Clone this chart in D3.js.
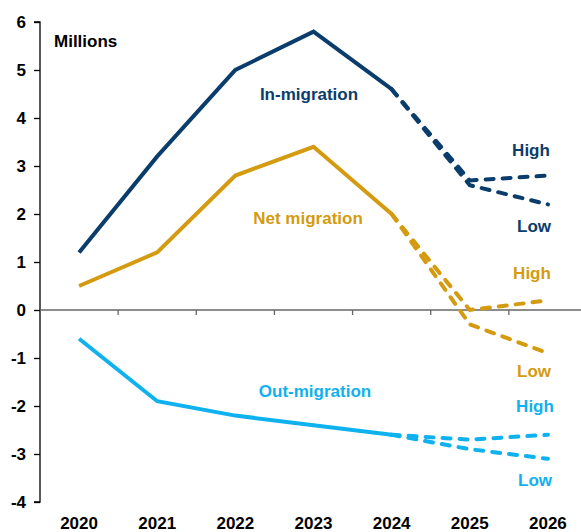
<!DOCTYPE html>
<html>
<head>
<meta charset="utf-8">
<script src="https://cdn.jsdelivr.net/npm/d3@7"></script>
<style>
  html, body { margin: 0; padding: 0; background: #fff; }
  svg { display: block; font-family: "Liberation Sans", Arial, sans-serif; }
</style>
</head>
<body>
<svg id="chart" width="581" height="532"></svg>
<script>
// Years on the category axis
const years = ["2020", "2021", "2022", "2023", "2024", "2025", "2026"];
const yTicks = [-4, -3, -2, -1, 0, 1, 2, 3, 4, 5, 6];

// Observed values, 2020–2024 (millions)
const inMigration  = [1.2, 3.2, 5.0, 5.8, 4.6];
const netMigration = [0.5, 1.2, 2.8, 3.4, 2.0];
const outMigration = [-0.6, -1.9, -2.2, -2.4, -2.6];

// Projection scenarios, 2024–2026 (millions)
const projYears = ["2024", "2025", "2026"];
const inHigh  = [4.6, 2.7, 2.8];
const inLow   = [4.6, 2.6, 2.2];
const netHigh = [2.0, 0.0, 0.2];
const netLow  = [2.0, -0.3, -0.9];
const outHigh = [-2.6, -2.7, -2.6];
const outLow  = [-2.6, -2.9, -3.1];

const colors = { inm: "#0a3d6b", net: "#d49b10", out: "#0fb1ee" };

const svg = d3.select("#chart");

const x = d3.scaleBand().domain(years).range([40, 587]);
const y = d3.scaleLinear().domain([-4, 6]).range([502, 22]);
const cx = d => x(d) + x.bandwidth() / 2;

// Y axis (plain hyphen for negatives)
const yAxis = svg.append("g")
  .attr("transform", "translate(40,0)")
  .call(d3.axisLeft(y).tickValues(yTicks).tickSize(6).tickPadding(8).tickFormat(d => String(d)));
yAxis.select(".domain").attr("stroke", "#000").attr("stroke-width", 1.3).attr("d", `M-6,${y(6)}H0V${y(-4)}H-6`);
yAxis.selectAll(".tick line").attr("stroke", "#000").attr("stroke-width", 1.3);
yAxis.selectAll(".tick text")
  .attr("fill", "#000").attr("font-size", 17).attr("font-weight", "bold")
  .attr("font-family", "Liberation Sans, Arial, sans-serif");

// Zero line with category separators
svg.append("line")
  .attr("x1", 40).attr("x2", 581)
  .attr("y1", y(0)).attr("y2", y(0))
  .attr("stroke", "#666").attr("stroke-width", 1.3);
svg.append("g").selectAll("line")
  .data(years.slice(1))
  .join("line")
  .attr("x1", d => x(d)).attr("x2", d => x(d))
  .attr("y1", y(0)).attr("y2", y(0) + 5)
  .attr("stroke", "#666").attr("stroke-width", 1.3);

// Year labels
svg.append("g").selectAll("text")
  .data(years)
  .join("text")
  .attr("x", d => cx(d)).attr("y", 529)
  .attr("text-anchor", "middle")
  .attr("font-size", 17).attr("font-weight", "bold").attr("fill", "#000")
  .text(d => d);

const line = d3.line().x(d => cx(d[0])).y(d => y(d[1]));

function solid(values, color) {
  svg.append("path")
    .datum(years.slice(0, values.length).map((yr, i) => [yr, values[i]]))
    .attr("d", line)
    .attr("fill", "none").attr("stroke", color)
    .attr("stroke-width", 4).attr("stroke-linejoin", "miter");
}
function dashed(values, color) {
  svg.append("path")
    .datum(projYears.map((yr, i) => [yr, values[i]]))
    .attr("d", line)
    .attr("fill", "none").attr("stroke", color)
    .attr("stroke-width", 4).attr("stroke-linecap", "round")
    .attr("stroke-dasharray", "8,9");
}

solid(inMigration, colors.inm);
dashed(inHigh, colors.inm);
dashed(inLow, colors.inm);
solid(netMigration, colors.net);
dashed(netHigh, colors.net);
dashed(netLow, colors.net);
solid(outMigration, colors.out);
dashed(outHigh, colors.out);
dashed(outLow, colors.out);

// Text labels
const labels = [
  { t: "Millions", x: 54, y: 47, c: "#000", a: "start" },
  { t: "In-migration", x: 309, y: 100, c: colors.inm, a: "middle" },
  { t: "Net migration", x: 308, y: 224, c: colors.net, a: "middle" },
  { t: "Out-migration", x: 315, y: 397, c: colors.out, a: "middle" },
  { t: "High", x: 531, y: 156, c: colors.inm, a: "middle" },
  { t: "Low", x: 534, y: 232, c: colors.inm, a: "middle" },
  { t: "High", x: 532, y: 279, c: colors.net, a: "middle" },
  { t: "Low", x: 534, y: 377, c: colors.net, a: "middle" },
  { t: "High", x: 535, y: 412, c: colors.out, a: "middle" },
  { t: "Low", x: 535, y: 486, c: colors.out, a: "middle" }
];
svg.append("g").selectAll("text")
  .data(labels)
  .join("text")
  .attr("x", d => d.x).attr("y", d => d.y)
  .attr("text-anchor", d => d.a)
  .attr("fill", d => d.c)
  .attr("font-size", 17).attr("font-weight", "bold")
  .text(d => d.t);
</script>
</body>
</html>
